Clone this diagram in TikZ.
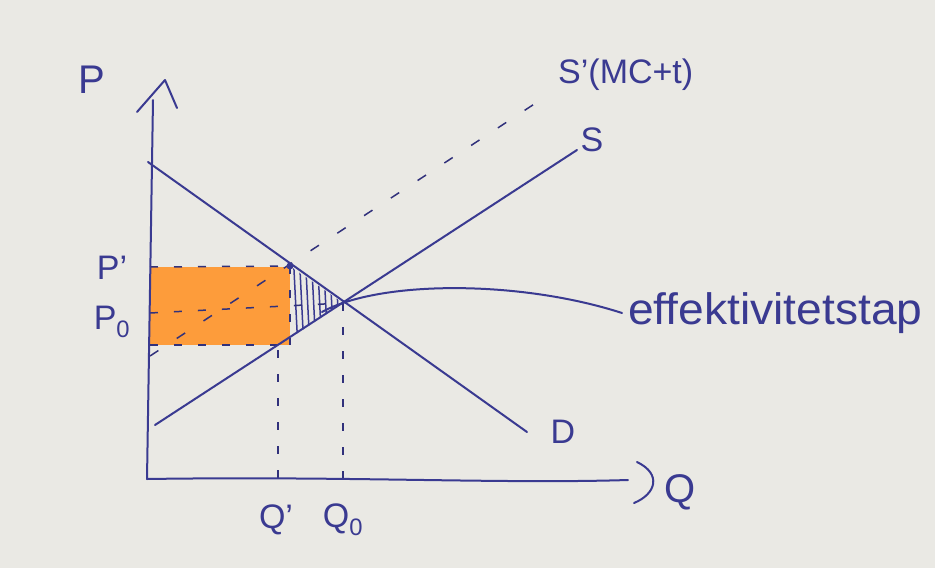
\documentclass[tikz,border=0pt]{standalone}
\usepackage{fontspec}
\setmainfont{Liberation Sans}
\definecolor{paper}{RGB}{234,233,228}
\definecolor{inkc}{RGB}{58,58,145}
\definecolor{marker}{RGB}{255,150,45}
\begin{document}
\begin{tikzpicture}[x=1pt,y=-1pt,
  ink/.style={draw=inkc, line width=2pt, line cap=round, line join=round},
  thin ink/.style={draw=inkc, line width=1.5pt, line cap=round},
  dash ink/.style={draw=inkc!85!black, line width=1.5pt, dash pattern=on 8pt off 16pt},
  sparse dash/.style={draw=inkc!85!black, line width=1.5pt, dash pattern=on 10pt off 22pt},
  lbl/.style={text=inkc, inner sep=0pt, font=\fontsize{34}{34}\selectfont},
  biglbl/.style={text=inkc, inner sep=0pt, font=\fontsize{40}{40}\selectfont}]
\fill[paper] (0,0) rectangle (935,568);
\useasboundingbox (0,0) rectangle (935,568);

% key points
\coordinate (O) at (147,479);
\coordinate (Ytop) at (153,100);
\coordinate (Xend) at (628,480);
\coordinate (D1) at (148,162);
\coordinate (D2) at (527,432);
\coordinate (S1) at (155,425);
\coordinate (S2) at (577,150);
\coordinate (Sp1) at (150,356);
\coordinate (Sp2) at (545,97);
\coordinate (E1) at (290,266);   % tax equilibrium (dot)
\coordinate (E0) at (343,303);   % original equilibrium
\coordinate (Eb) at (290,338);   % supply at Q'
\coordinate (Pp) at (150,267);
\coordinate (P0) at (150,313);
\coordinate (Pl) at (150,345);
\coordinate (Bl) at (290,345);
\coordinate (Qp) at (278,478);
\coordinate (Qpt) at (278,350);
\coordinate (Q0) at (343,478);

% orange tax revenue rectangle
\fill[marker, opacity=0.92] (Pp) rectangle (Bl);

% hatched deadweight loss triangle
\begin{scope}
  \clip (E1) -- (E0) -- (Eb) -- cycle;
  \foreach \xx in {293,299,...,345} {
    \draw[thin ink] (\xx,250) -- (\xx+5,350);
  }
\end{scope}

% dashed helper lines
\draw[sparse dash] (Sp1) -- (Sp2);
\draw[dash ink] (Pp) -- (E1);
\draw[dash ink] (P0) -- (E0);
\draw[dash ink] (Pl) -- (Bl);
\draw[dash ink] (E1) -- (Bl);
\draw[dash ink] (Qpt) -- (Qp);
\draw[dash ink] (E0) -- (Q0);

% axes
\draw[ink] (O) -- (Ytop);
\draw[ink] (O) .. controls (350,476) and (500,484) .. (Xend);
\coordinate (Ya) at (137,112);
\coordinate (Yb) at (165,80);
\coordinate (Yc) at (177,108);
\draw[ink] (Ya) -- (Yb) -- (Yc);
\coordinate (Xa) at (637,462);
\coordinate (Xb) at (634,503);
\draw[ink] (Xa) .. controls (662,474) and (656,494) .. (Xb);

% curves
\draw[ink] (D1) -- (D2);
\draw[ink] (S1) -- (S2);

% equilibrium dot
\fill[inkc] (E1) circle (3.5);

% label pointer
\coordinate (Lstart) at (322,312);
\coordinate (Lend) at (622,313);
\draw[ink] (Lstart) .. controls (380,280) and (520,280) .. (Lend);

% labels
\node[biglbl] (lP) at (92,80) {P};
\node[biglbl] (lQ) at (680,492) {Q};
\node[lbl] (lD) at (563,432) {D};
\node[lbl] (lS) at (592,140) {S};
\node[lbl, anchor=west] (lSp) at (558,75) {S'(MC+t)};
\node[lbl] (lPp) at (112,268) {P'};
\node[lbl] (lP0) at (112,322) {P\textsubscript{0}};
\node[lbl] (lQp) at (276,520) {Q'};
\node[lbl] (lQ0) at (343,520) {Q\textsubscript{0}};
\node[lbl, anchor=west, font=\fontsize{44}{44}\selectfont] (lEff) at (628,313) {\scalebox{1.05}[1]{effektivitetstap}};
\end{tikzpicture}
\end{document}
